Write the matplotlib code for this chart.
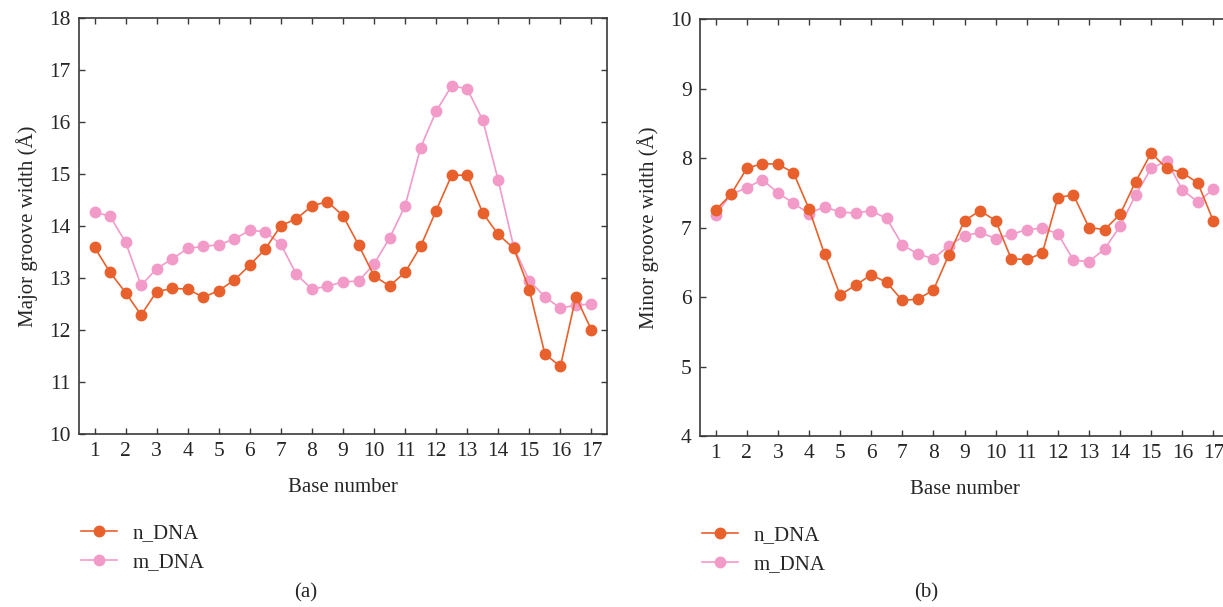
import matplotlib
matplotlib.use("Agg")
import matplotlib.pyplot as plt
import matplotlib.lines as mlines

plt.rcParams["font.family"] = ["Liberation Serif", "DejaVu Serif"]

bases = [1 + 0.5 * i for i in range(33)]

# major groove width (angstrom)
major_n = [13.59, 13.11, 12.72, 12.29, 12.74, 12.80, 12.79, 12.63, 12.76, 12.96,
           13.25, 13.56, 14.01, 14.14, 14.39, 14.47, 14.20, 13.64, 13.04, 12.85,
           13.11, 13.61, 14.30, 14.98, 14.98, 14.25, 13.84, 13.57, 12.78, 11.54,
           11.30, 12.64, 12.00]
major_m = [14.27, 14.19, 13.69, 12.86, 13.18, 13.37, 13.57, 13.61, 13.64, 13.75,
           13.92, 13.89, 13.65, 13.07, 12.79, 12.84, 12.93, 12.94, 13.27, 13.77,
           14.39, 15.51, 16.21, 16.70, 16.64, 16.04, 14.88, 13.59, 12.95, 12.64,
           12.42, 12.48, 12.50]

# minor groove width (angstrom)
minor_n = [7.25, 7.48, 7.85, 7.92, 7.91, 7.79, 7.27, 6.62, 6.03, 6.17,
           6.32, 6.21, 5.95, 5.97, 6.10, 6.61, 7.10, 7.24, 7.10, 6.55,
           6.54, 6.63, 7.43, 7.47, 7.00, 6.97, 7.19, 7.66, 8.07, 7.85,
           7.79, 7.64, 7.09]
minor_m = [7.18, 7.48, 7.57, 7.69, 7.50, 7.35, 7.20, 7.30, 7.22, 7.21,
           7.24, 7.13, 6.75, 6.62, 6.55, 6.74, 6.88, 6.93, 6.84, 6.90,
           6.97, 6.99, 6.91, 6.53, 6.51, 6.69, 7.02, 7.47, 7.85, 7.96,
           7.54, 7.37, 7.55]

c_n = "#e8612c"
c_m = "#f29ac8"
spine_c = "#3a3a3a"
text_c = "#262626"

fig = plt.figure(figsize=(12.23, 6.07), dpi=100)
ax1 = fig.add_axes([0.0646, 0.285, 0.4317, 0.685])
ax2 = fig.add_axes([0.5724, 0.2817, 0.4325, 0.687])


def style(ax, lims, n_vals, m_vals, ylabel, tag, tag_x):
    ax.plot(bases, n_vals, "-o", color=c_n, lw=1.2, ms=7.5, zorder=3)
    ax.plot(bases, m_vals, "-o", color=c_m, lw=1.2, ms=7.5, zorder=2)
    ax.set_xlim(0.5, 17.5)
    ax.set_ylim(*lims)
    ax.set_xticks(range(1, 18))
    ax.set_yticks(range(lims[0], lims[1] + 1))
    ax.tick_params(direction="in", length=4, width=1, color=spine_c,
                   top=True, right=True, labelsize=15.5, labelcolor=text_c,
                   pad=6)
    for s in ax.spines.values():
        s.set_color(spine_c)
        s.set_linewidth(1.2)
    ax.set_xlabel("Base number", fontsize=15, color=text_c, labelpad=12)
    ax.set_ylabel(ylabel, fontsize=15, color=text_c, labelpad=8)

    n_line = mlines.Line2D([], [], color=c_n, marker="o", lw=1.2, ms=7.5,
                           label="n_DNA")
    m_line = mlines.Line2D([], [], color=c_m, marker="o", lw=1.2, ms=7.5,
                           label="m_DNA")
    ax.legend(handles=[n_line, m_line], loc="upper left",
              bbox_to_anchor=(-0.032, -0.17), frameon=False, fontsize=15,
              handlelength=1.75, handletextpad=0.75, labelspacing=0.45,
              labelcolor=text_c)
    fig.text(tag_x, 0.008, tag, ha="center", va="bottom", fontsize=15,
             color=text_c)


style(ax1, (10, 18), major_n, major_m, "Major groove width (Å)", "(a)", 0.2502)
style(ax2, (4, 10), minor_n, minor_m, "Minor groove width (Å)", "(b)", 0.7575)

fig.savefig("out.png", dpi=100)
